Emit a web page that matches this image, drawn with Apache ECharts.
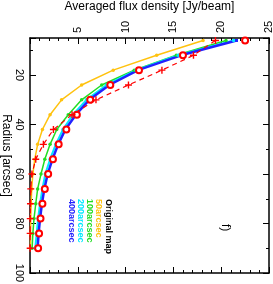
<!DOCTYPE html>
<html><head><meta charset="utf-8">
<script src="https://cdn.jsdelivr.net/npm/echarts@6/dist/echarts.min.js"></script>
<style>html,body{margin:0;padding:0;background:#fff}#c{width:273px;height:284px}</style>
</head><body><div id="c"></div>
<script>
const radius = [6,12,18,24,30,36,42,48,54,60,66,72,78,84,90];
const orange50 = [18.1,13.25,8.7,5.4,3.3,2.1,1.3,0.8,0.5,0.3,0.18,0.12,0.08,0.06,0.05];
const green100 = [20.5,15.3,10.9,7.5,5.4,4.0,2.8,2.1,1.55,1.15,0.8,0.6,0.42,0.3,0.22];
const cyan200 = [21.3,15.5,11.1,8.0,5.9,4.5,3.45,2.7,2.1,1.6,1.3,1.05,0.85,0.7,0.55];
const blue400 = [21.6,15.8,11.3,8.3,6.2,4.8,3.7,2.95,2.35,1.85,1.5,1.25,1.05,0.9,0.8];
const original = [22.5,16.0,11.4,8.4,6.3,4.9,3.8,3.0,2.4,1.9,1.55,1.3,1.1,0.95,0.85];
const model = [19.4,17.1,13.8,10.3,6.9,4.4,2.45,1.4,0.6,0.2,0.08,0.05,0.03,0.02,0.02];
const fluxTicks = [5,10,15,20,25];
const radiusTicks = [20,40,60,80,100];
const legendNames = ['Original map','50arcsec','100arcsec','200arcsec','400arcsec'];
const legendColors = ['#000000','#ffc20e','#22dd22','#00e8ff','#2222ff'];
const panelLabel = 'f)';

const pairs = arr => arr.map((v,i)=>[v, radius[i]]);
const chart = echarts.init(document.getElementById('c'), null, {renderer:'canvas'});
const font = 'Liberation Sans, Arial, sans-serif';
const plusPath = 'path://M4,0h2v4h4v2h-4v4h-2v-4h-4v-2h4z';

function line(name, data, color, width, opts) {
  return Object.assign({
    name, type:'line', data: pairs(data), xAxisIndex:0, yAxisIndex:0,
    lineStyle:{color, width}, itemStyle:{color}, symbol:'circle', symbolSize:3.5,
    showSymbol:true, animation:false, z:2
  }, opts||{});
}

const axisCommon = {
  axisLine:{show:true, onZero:false, lineStyle:{color:'#000', width:1.5}},
  axisTick:{show:true, inside:true, length:6, lineStyle:{color:'#000', width:1}},
  minorTick:{show:true, length:3, lineStyle:{color:'#000', width:1}},
  splitLine:{show:false}
};

chart.setOption({
  animation:false,
  grid:{left:30, right:4, top:38, bottom:11, containLabel:false, outerBoundsMode:'none'},
  xAxis:[
    Object.assign({}, axisCommon, {type:'value', position:'top', min:0, max:25, interval:5,
      minorTick:Object.assign({}, axisCommon.minorTick, {splitNumber:5}),
      axisLabel:{show:true, rotate:-90, fontSize:11, color:'#000', fontFamily:font, margin:5,
        showMinLabel:false, formatter: v => fluxTicks.includes(v) ? String(v) : ''},
      name:'Averaged flux density [Jy/beam]', nameLocation:'middle', nameGap:25,
      nameTextStyle:{fontSize:12, color:'#000', fontFamily:font}}),
    Object.assign({}, axisCommon, {type:'value', position:'bottom', min:0, max:25, interval:5,
      minorTick:Object.assign({}, axisCommon.minorTick, {splitNumber:5}),
      axisLabel:{show:false}})
  ],
  yAxis:[
    Object.assign({}, axisCommon, {type:'value', position:'left', inverse:true, min:5, max:100, splitNumber:5,
      minorTick:Object.assign({}, axisCommon.minorTick, {splitNumber:2}),
      axisLabel:{show:true, rotate:-90, fontSize:11, color:'#000', fontFamily:font, margin:5,
        showMinLabel:false, formatter: v => radiusTicks.includes(v) ? String(v) : ''},
      name:'Radius [arcsec]', nameLocation:'middle', nameGap:18, nameRotate:-90, nameMoveOverlap:false,
      nameTextStyle:{fontSize:12, color:'#000', fontFamily:font}}),
    Object.assign({}, axisCommon, {type:'value', position:'right', inverse:true, min:5, max:100, splitNumber:5,
      minorTick:Object.assign({}, axisCommon.minorTick, {splitNumber:2}),
      axisLabel:{show:false}})
  ],
  series:[
    line('50arcsec', orange50, legendColors[1], 1.5),
    line('100arcsec', green100, legendColors[2], 1.5),
    line('200arcsec', cyan200, legendColors[3], 2),
    line('400arcsec', blue400, legendColors[4], 2.5, {symbol:'rect', symbolSize:3}),
    line('Original map', original, '#ff0000', 0, {symbol:'emptyCircle', symbolSize:6,
      lineStyle:{width:0, opacity:0}, itemStyle:{color:'#ff0000', borderColor:'#ff0000', borderWidth:1.3}, z:3}),
    line('model', model, '#ff0000', 1.2, {symbol:plusPath, symbolSize:7,
      lineStyle:{color:'#ff0000', width:1.2, type:[5,4]}, z:4})
  ],
  graphic:[
    ...legendNames.map((t,i)=>({type:'text', x:108 - i*9.25, y:199, rotation:-Math.PI/2,
      style:{text:t, fill:legendColors[i], font:'bold 9px '+font, textAlign:'left', textVerticalAlign:'middle'}})),
    {type:'text', x:225, y:224, rotation:-Math.PI/2,
      style:{text:panelLabel, fill:'#000', font:'12px '+font, textAlign:'left', textVerticalAlign:'middle'}}
  ]
});
</script></body></html>
